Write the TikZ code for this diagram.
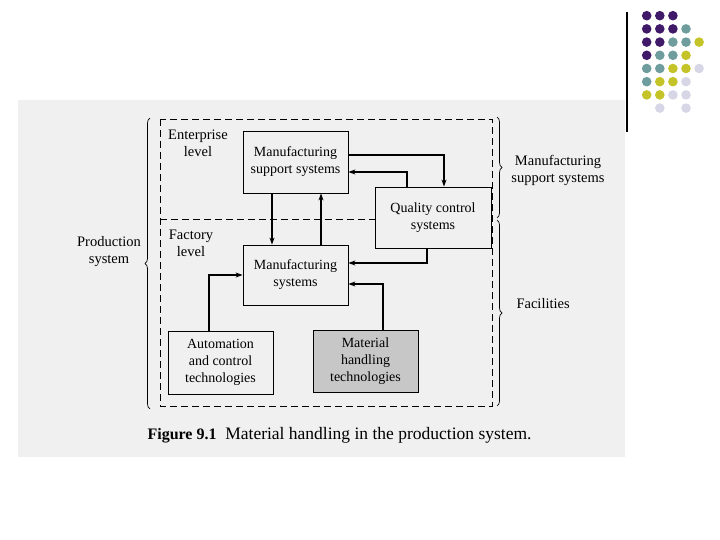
\documentclass[tikz,border=0pt]{standalone}
\usepackage{fontspec}
\setmainfont{Liberation Serif}
\usetikzlibrary{arrows.meta,decorations.pathreplacing}
\definecolor{dotpurple}{RGB}{64,26,104}
\definecolor{dotteal}{RGB}{111,156,156}
\definecolor{dotolive}{RGB}{196,196,40}
\definecolor{dotlilac}{RGB}{214,214,230}
\begin{document}
\begin{tikzpicture}[x=1pt,y=-1pt,
    box/.style={draw, line width=0.8pt, minimum width=105pt, minimum height=62pt, align=center, inner sep=2pt, font=\fontsize{14}{17}\selectfont},
    sidetext/.style={align=center, font=\fontsize{14.5}{17}\selectfont},
    flowarrow/.style={line width=1.2pt, -{Stealth[length=7pt,width=5pt]}},
    levelframe/.style={line width=0.7pt, dash pattern=on 7pt off 4pt},
    bracket/.style={line width=0.7pt, decorate, decoration={brace, amplitude=5pt}}]
    \useasboundingbox (0,0) rectangle (720,540);
    % Slide decoration
    \draw[line width=1.2pt] (627,12) -- (627,132);
    \foreach \i/\j/\c in {1/1/dotpurple, 2/1/dotpurple, 3/1/dotpurple,
        1/2/dotpurple, 2/2/dotpurple, 3/2/dotpurple, 4/2/dotteal,
        1/3/dotpurple, 2/3/dotpurple, 3/3/dotteal, 4/3/dotteal, 5/3/dotolive,
        1/4/dotpurple, 2/4/dotteal, 3/4/dotteal, 4/4/dotolive,
        1/5/dotteal, 2/5/dotteal, 3/5/dotolive, 4/5/dotolive, 5/5/dotlilac,
        1/6/dotteal, 2/6/dotolive, 3/6/dotolive, 4/6/dotlilac,
        1/7/dotolive, 2/7/dotolive, 3/7/dotlilac, 4/7/dotlilac,
        2/8/dotlilac, 4/8/dotlilac}
        \fill[\c] (633.6+13.1*\i, 2.5+13.2*\j) circle (4.8pt);
    % Scanned page
    \fill[black!6] (18,100) rectangle (625,457);
    % Levels
    \draw[levelframe] (160,119) rectangle (492,406);
    \draw[levelframe] (160,219) -- (375,219);
    \node[sidetext] (enterprise) at (198,143) {Enterprise\\level};
    \node[sidetext] (factory) at (191,243) {Factory\\level};
    % Blocks
    \node[box] (mss) at (295.5,162) {Manufacturing\\support systems};
    \node[box, minimum width=116pt, minimum height=61pt] (qc) at (433,217.5) {Quality control\\systems};
    \node[box, minimum height=60pt] (ms) at (295.5,275) {Manufacturing\\systems};
    \node[box, minimum height=63pt] (act) at (220.5,362.5) {Automation\\and control\\technologies};
    \node[box, fill=black!22] (mht) at (365.5,361) {Material\\handling\\technologies};
    % Connections
    \draw[flowarrow] ([xshift=-23.5pt]mss.south) -- ([xshift=-23.5pt]ms.north);
    \draw[flowarrow] ([xshift=25.5pt]ms.north) -- ([xshift=25.5pt]mss.south);
    \draw[flowarrow] ([yshift=7pt]mss.east) -| ([xshift=11pt]qc.north);
    \draw[flowarrow] ([xshift=-26pt]qc.north) |- ([yshift=-10pt]mss.east);
    \draw[flowarrow] ([xshift=-6pt]qc.south) |- ([yshift=12pt]ms.east);
    \draw[flowarrow] ([xshift=17.5pt]mht.north) |- ([yshift=-9pt]ms.east);
    \draw[flowarrow] ([xshift=-11.5pt]act.north) |- (ms.west);
    % Braces
    \draw[bracket] (150,409) -- (150,118);
    \draw[bracket] (497,117) -- (497,218);
    \draw[bracket] (497,220) -- (497,406);
    \node[sidetext] (production) at (109,252) {Production\\system};
    \node[sidetext] (support) at (558,170) {Manufacturing\\support systems};
    \node[sidetext, anchor=west] (facilities) at (513,304) {Facilities};
    % Caption
    \node[font=\fontsize{17.5}{20}\selectfont, anchor=west] (caption) at (144,435) {{\fontsize{16}{20}\selectfont\bfseries Figure 9.1}\enspace Material handling in the production system.};
\end{tikzpicture}
\end{document}
